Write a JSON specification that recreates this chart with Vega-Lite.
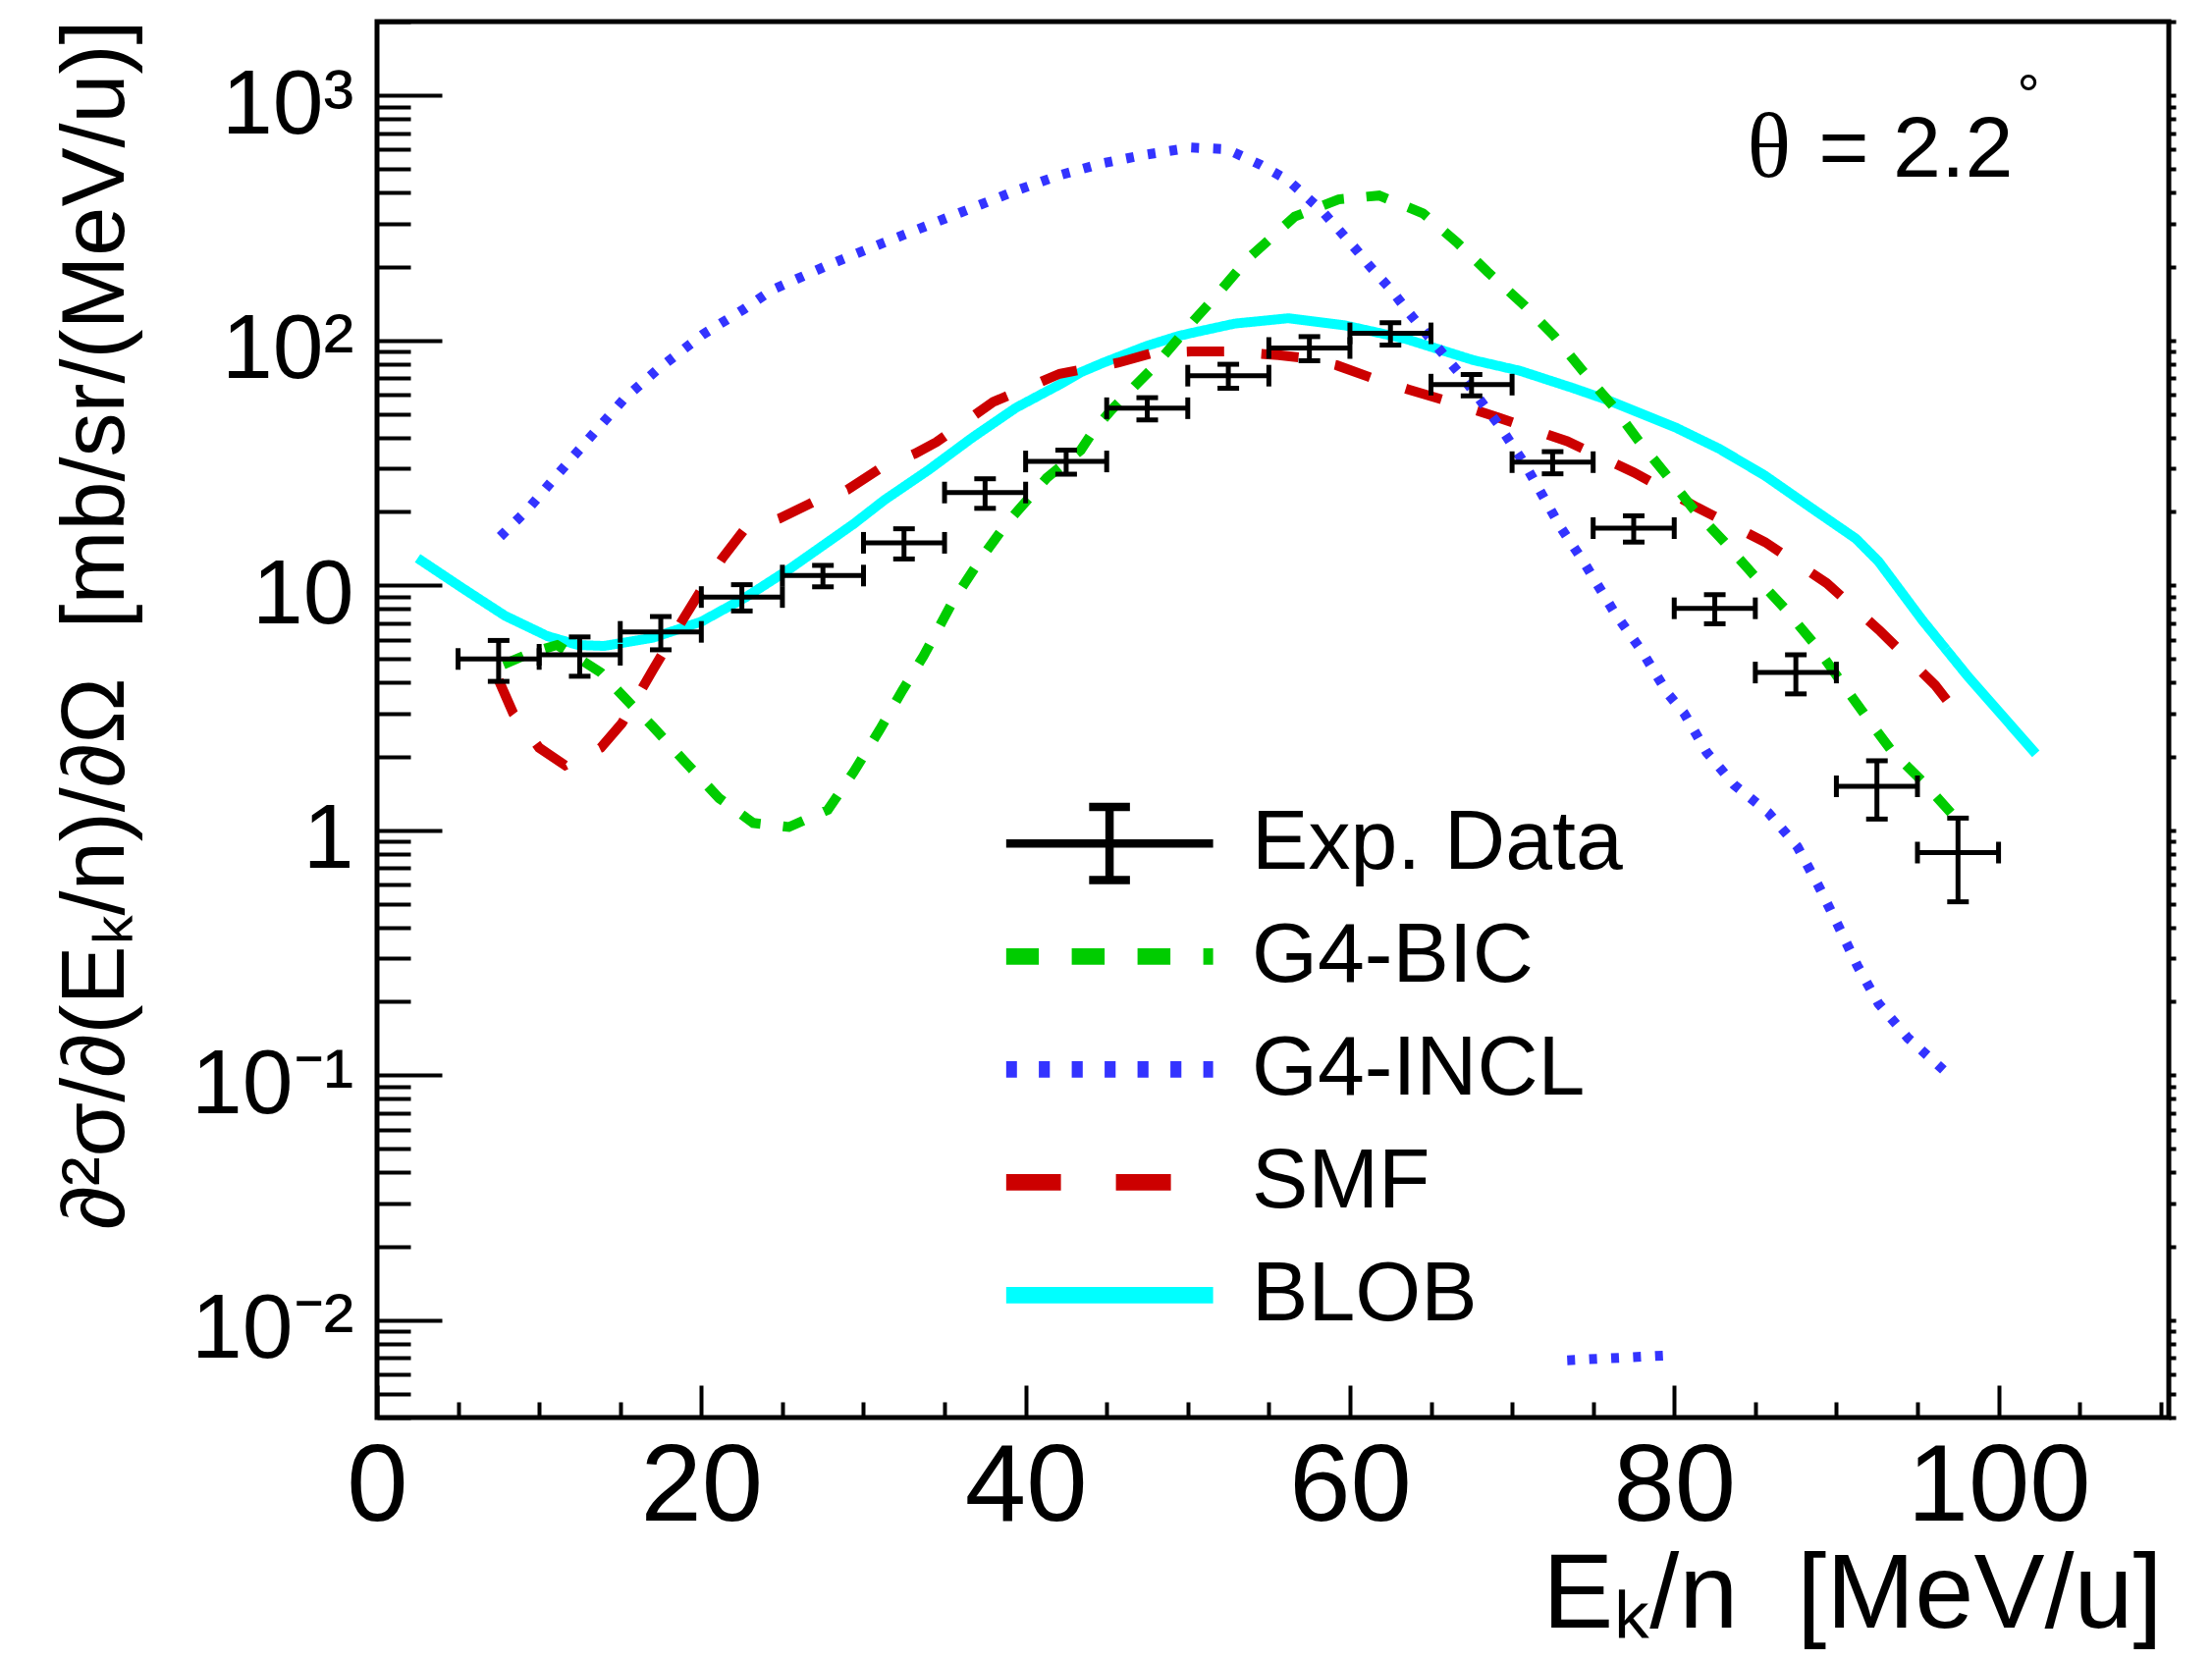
{
  "$schema": "https://vega.github.io/schema/vega-lite/v6.json",
  "width": 1825,
  "height": 1422,
  "autosize": {"type": "none"},
  "padding": {"left": 384, "top": 22, "right": 44, "bottom": 247},
  "background": "white",
  "config": {
    "font": "Liberation Sans",
    "view": {"stroke": "black", "strokeWidth": 5},
    "axis": {"labelFont": "Liberation Sans", "titleFont": "Liberation Sans", "labelColor": "black", "titleColor": "black", "tickColor": "black", "grid": false, "domain": false, "titleFontWeight": "normal", "tickWidth": 4, "labelOverlap": false, "labelFlush": false, "labelLimit": 1000},
    "legend": {"labelFont": "Liberation Sans", "labelColor": "black"}
  },
  "datasets": {
    "models": [
      {"series":"BLOB","seg":1,"E":2.5,"v":12.9},{"series":"BLOB","seg":1,"E":5.2,"v":9.8},{"series":"BLOB","seg":1,"E":7.9,"v":7.5},{"series":"BLOB","seg":1,"E":10.5,"v":6.2},{"series":"BLOB","seg":1,"E":12.4,"v":5.7},{"series":"BLOB","seg":1,"E":14.0,"v":5.65},{"series":"BLOB","seg":1,"E":17.0,"v":6.1},{"series":"BLOB","seg":1,"E":20.0,"v":7.1},{"series":"BLOB","seg":1,"E":22.7,"v":8.9},{"series":"BLOB","seg":1,"E":25.4,"v":11.6},{"series":"BLOB","seg":1,"E":29.4,"v":17.8},{"series":"BLOB","seg":1,"E":31.3,"v":22.3},{"series":"BLOB","seg":1,"E":34.0,"v":29.5},{"series":"BLOB","seg":1,"E":36.7,"v":40},{"series":"BLOB","seg":1,"E":39.4,"v":53},{"series":"BLOB","seg":1,"E":42.1,"v":66},{"series":"BLOB","seg":1,"E":43.4,"v":74},{"series":"BLOB","seg":1,"E":44.8,"v":81},{"series":"BLOB","seg":1,"E":47.5,"v":95},{"series":"BLOB","seg":1,"E":49.4,"v":104},{"series":"BLOB","seg":1,"E":50.2,"v":107},{"series":"BLOB","seg":1,"E":52.9,"v":117},{"series":"BLOB","seg":1,"E":56.2,"v":123},{"series":"BLOB","seg":1,"E":59.7,"v":115},{"series":"BLOB","seg":1,"E":62.4,"v":105},{"series":"BLOB","seg":1,"E":63.5,"v":101},{"series":"BLOB","seg":1,"E":67.6,"v":83},{"series":"BLOB","seg":1,"E":70.5,"v":75},{"series":"BLOB","seg":1,"E":73.7,"v":64},{"series":"BLOB","seg":1,"E":75.9,"v":57},{"series":"BLOB","seg":1,"E":80.1,"v":44},{"series":"BLOB","seg":1,"E":82.8,"v":36},{"series":"BLOB","seg":1,"E":85.6,"v":28},{"series":"BLOB","seg":1,"E":88.4,"v":20.8},{"series":"BLOB","seg":1,"E":91.2,"v":15.5},{"series":"BLOB","seg":1,"E":92.6,"v":12.5},{"series":"BLOB","seg":1,"E":95.3,"v":7.2},{"series":"BLOB","seg":1,"E":98.1,"v":4.25},{"series":"BLOB","seg":1,"E":102.3,"v":2.05},
      {"series":"SMF","seg":1,"E":7.5,"v":4.1},{"series":"SMF","seg":1,"E":8.4,"v":3.0},{"series":"SMF","seg":1,"E":10.0,"v":2.17},{"series":"SMF","seg":1,"E":11.6,"v":1.84},{"series":"SMF","seg":1,"E":13.8,"v":2.17},{"series":"SMF","seg":1,"E":15.1,"v":2.73},{"series":"SMF","seg":1,"E":17.0,"v":4.5},{"series":"SMF","seg":1,"E":18.9,"v":7.3},{"series":"SMF","seg":1,"E":20.3,"v":10.3},{"series":"SMF","seg":1,"E":21.3,"v":12.9},{"series":"SMF","seg":1,"E":22.6,"v":16.7},{"series":"SMF","seg":1,"E":24.8,"v":18.7},{"series":"SMF","seg":1,"E":27.0,"v":22},{"series":"SMF","seg":1,"E":29.0,"v":24.5},{"series":"SMF","seg":1,"E":31.2,"v":30.5},{"series":"SMF","seg":1,"E":33.2,"v":34.5},{"series":"SMF","seg":1,"E":34.5,"v":38.4},{"series":"SMF","seg":1,"E":38.0,"v":56},{"series":"SMF","seg":1,"E":42.1,"v":73},{"series":"SMF","seg":1,"E":45.7,"v":81},{"series":"SMF","seg":1,"E":47.9,"v":89},{"series":"SMF","seg":1,"E":50.2,"v":90},{"series":"SMF","seg":1,"E":52.5,"v":90},{"series":"SMF","seg":1,"E":55.6,"v":87},{"series":"SMF","seg":1,"E":57.0,"v":85},{"series":"SMF","seg":1,"E":59.2,"v":79},{"series":"SMF","seg":1,"E":61.4,"v":70},{"series":"SMF","seg":1,"E":63.6,"v":63},{"series":"SMF","seg":1,"E":65.8,"v":57},{"series":"SMF","seg":1,"E":69.1,"v":48.5},{"series":"SMF","seg":1,"E":73.4,"v":38.7},{"series":"SMF","seg":1,"E":77.5,"v":28.9},{"series":"SMF","seg":1,"E":81.4,"v":20.8},{"series":"SMF","seg":1,"E":85.6,"v":15},{"series":"SMF","seg":1,"E":89.4,"v":10.2},{"series":"SMF","seg":1,"E":92.7,"v":6.5},{"series":"SMF","seg":1,"E":96.1,"v":3.9},{"series":"SMF","seg":1,"E":96.8,"v":3.4},
      {"series":"G4-BIC","seg":1,"E":7.8,"v":4.75},{"series":"G4-BIC","seg":1,"E":9.5,"v":5.3},{"series":"G4-BIC","seg":1,"E":11.1,"v":5.7},{"series":"G4-BIC","seg":1,"E":12.7,"v":4.9},{"series":"G4-BIC","seg":1,"E":13.8,"v":4.4},{"series":"G4-BIC","seg":1,"E":15.4,"v":3.4},{"series":"G4-BIC","seg":1,"E":17.0,"v":2.65},{"series":"G4-BIC","seg":1,"E":19.2,"v":1.84},{"series":"G4-BIC","seg":1,"E":21.1,"v":1.35},{"series":"G4-BIC","seg":1,"E":23.2,"v":1.07},{"series":"G4-BIC","seg":1,"E":25.4,"v":1.03},{"series":"G4-BIC","seg":1,"E":27.8,"v":1.21},{"series":"G4-BIC","seg":1,"E":29.4,"v":1.73},{"series":"G4-BIC","seg":1,"E":31.0,"v":2.57},{"series":"G4-BIC","seg":1,"E":32.4,"v":3.72},{"series":"G4-BIC","seg":1,"E":33.7,"v":5.14},{"series":"G4-BIC","seg":1,"E":35.6,"v":8.79},{"series":"G4-BIC","seg":1,"E":37.2,"v":12.7},{"series":"G4-BIC","seg":1,"E":38.8,"v":17.8},{"series":"G4-BIC","seg":1,"E":41.3,"v":27.4},{"series":"G4-BIC","seg":1,"E":43.4,"v":35.6},{"series":"G4-BIC","seg":1,"E":44.2,"v":42.8},{"series":"G4-BIC","seg":1,"E":45.3,"v":52},{"series":"G4-BIC","seg":1,"E":46.7,"v":64.7},{"series":"G4-BIC","seg":1,"E":48.0,"v":79},{"series":"G4-BIC","seg":1,"E":50.4,"v":121},{"series":"G4-BIC","seg":1,"E":51.6,"v":148},{"series":"G4-BIC","seg":1,"E":53.7,"v":215},{"series":"G4-BIC","seg":1,"E":56.6,"v":320},{"series":"G4-BIC","seg":1,"E":59.3,"v":376},{"series":"G4-BIC","seg":1,"E":61.8,"v":390},{"series":"G4-BIC","seg":1,"E":64.5,"v":330},{"series":"G4-BIC","seg":1,"E":66.6,"v":251},{"series":"G4-BIC","seg":1,"E":68.5,"v":190},{"series":"G4-BIC","seg":1,"E":70.8,"v":138},{"series":"G4-BIC","seg":1,"E":72.6,"v":104},{"series":"G4-BIC","seg":1,"E":74.4,"v":74.4},{"series":"G4-BIC","seg":1,"E":76.2,"v":54},{"series":"G4-BIC","seg":1,"E":77.8,"v":38.9},{"series":"G4-BIC","seg":1,"E":79.5,"v":28.3},{"series":"G4-BIC","seg":1,"E":81.2,"v":20.4},{"series":"G4-BIC","seg":1,"E":83.1,"v":15},{"series":"G4-BIC","seg":1,"E":84.9,"v":11},{"series":"G4-BIC","seg":1,"E":86.8,"v":8.06},{"series":"G4-BIC","seg":1,"E":88.6,"v":5.8},{"series":"G4-BIC","seg":1,"E":90.2,"v":4.11},{"series":"G4-BIC","seg":1,"E":91.8,"v":2.93},{"series":"G4-BIC","seg":1,"E":93.4,"v":2.11},{"series":"G4-BIC","seg":1,"E":95.4,"v":1.56},{"series":"G4-BIC","seg":1,"E":97.2,"v":1.15},
      {"series":"G4-INCL","seg":1,"E":7.6,"v":15.8},{"series":"G4-INCL","seg":1,"E":9.3,"v":20.4},{"series":"G4-INCL","seg":1,"E":11.15,"v":28.4},{"series":"G4-INCL","seg":1,"E":13.3,"v":41.3},{"series":"G4-INCL","seg":1,"E":15.2,"v":57.3},{"series":"G4-INCL","seg":1,"E":17.3,"v":76},{"series":"G4-INCL","seg":1,"E":20.1,"v":105.7},{"series":"G4-INCL","seg":1,"E":22.6,"v":133.6},{"series":"G4-INCL","seg":1,"E":24.4,"v":161},{"series":"G4-INCL","seg":1,"E":28.0,"v":205},{"series":"G4-INCL","seg":1,"E":31.3,"v":251},{"series":"G4-INCL","seg":1,"E":34.0,"v":295},{"series":"G4-INCL","seg":1,"E":36.7,"v":347},{"series":"G4-INCL","seg":1,"E":39.4,"v":408},{"series":"G4-INCL","seg":1,"E":42.1,"v":472},{"series":"G4-INCL","seg":1,"E":44.8,"v":529},{"series":"G4-INCL","seg":1,"E":47.5,"v":574},{"series":"G4-INCL","seg":1,"E":50.2,"v":612},{"series":"G4-INCL","seg":1,"E":52.4,"v":603},{"series":"G4-INCL","seg":1,"E":54.5,"v":520},{"series":"G4-INCL","seg":1,"E":56.2,"v":450},{"series":"G4-INCL","seg":1,"E":58.3,"v":336},{"series":"G4-INCL","seg":1,"E":60.5,"v":230},{"series":"G4-INCL","seg":1,"E":61.1,"v":205},{"series":"G4-INCL","seg":1,"E":62.6,"v":159},{"series":"G4-INCL","seg":1,"E":63.5,"v":133},{"series":"G4-INCL","seg":1,"E":64.8,"v":104.5},{"series":"G4-INCL","seg":1,"E":67.0,"v":70},{"series":"G4-INCL","seg":1,"E":69.2,"v":45},{"series":"G4-INCL","seg":1,"E":70.8,"v":31.1},{"series":"G4-INCL","seg":1,"E":73.0,"v":17.2},{"series":"G4-INCL","seg":1,"E":74.4,"v":12.5},{"series":"G4-INCL","seg":1,"E":76.3,"v":7.76},{"series":"G4-INCL","seg":1,"E":78.0,"v":5.39},{"series":"G4-INCL","seg":1,"E":79.6,"v":3.61},{"series":"G4-INCL","seg":1,"E":80.6,"v":3.01},{"series":"G4-INCL","seg":1,"E":82.0,"v":2.08},{"series":"G4-INCL","seg":1,"E":83.7,"v":1.53},{"series":"G4-INCL","seg":1,"E":85.8,"v":1.18},{"series":"G4-INCL","seg":1,"E":87.6,"v":0.855},{"series":"G4-INCL","seg":1,"E":88.9,"v":0.592},{"series":"G4-INCL","seg":1,"E":90.1,"v":0.409},{"series":"G4-INCL","seg":1,"E":91.3,"v":0.279},{"series":"G4-INCL","seg":1,"E":92.6,"v":0.196},{"series":"G4-INCL","seg":1,"E":94.4,"v":0.142},{"series":"G4-INCL","seg":1,"E":96.6,"v":0.105},
      {"series":"G4-INCL","seg":2,"E":73.4,"v":0.00685},{"series":"G4-INCL","seg":2,"E":80.1,"v":0.0072}
    ],
    "exp": [
      {"E":7.5,"xl":5,"xh":10,"v":5.0,"lo":4.05,"hi":5.95},
      {"E":12.5,"xl":10,"xh":15,"v":5.2,"lo":4.25,"hi":6.15},
      {"E":17.5,"xl":15,"xh":20,"v":6.45,"lo":5.45,"hi":7.45},
      {"E":22.5,"xl":20,"xh":25,"v":8.95,"lo":7.85,"hi":10.05},
      {"E":27.5,"xl":25,"xh":30,"v":10.95,"lo":9.85,"hi":12.05},
      {"E":32.5,"xl":30,"xh":35,"v":14.9,"lo":12.8,"hi":17.0},
      {"E":37.5,"xl":35,"xh":40,"v":23.9,"lo":20.6,"hi":27.2},
      {"E":42.5,"xl":40,"xh":45,"v":32.0,"lo":28.4,"hi":35.6},
      {"E":47.5,"xl":45,"xh":50,"v":52.8,"lo":47.3,"hi":58.3},
      {"E":52.5,"xl":50,"xh":55,"v":71.7,"lo":63.7,"hi":79.8},
      {"E":57.5,"xl":55,"xh":60,"v":93.0,"lo":82.5,"hi":103.5},
      {"E":62.5,"xl":60,"xh":65,"v":106.7,"lo":95.5,"hi":118},
      {"E":67.5,"xl":65,"xh":70,"v":65.9,"lo":59.3,"hi":72.5},
      {"E":72.5,"xl":70,"xh":75,"v":31.8,"lo":28.5,"hi":35.1},
      {"E":77.5,"xl":75,"xh":80,"v":17.1,"lo":15.0,"hi":19.2},
      {"E":82.5,"xl":80,"xh":85,"v":8.05,"lo":6.96,"hi":9.15},
      {"E":87.5,"xl":85,"xh":90,"v":4.4,"lo":3.6,"hi":5.2},
      {"E":92.5,"xl":90,"xh":95,"v":1.51,"lo":1.11,"hi":1.92},
      {"E":97.5,"xl":95,"xh":100,"v":0.81,"lo":0.51,"hi":1.12}
    ]
  },
  "resolve": {"axis": {"x": "independent", "y": "independent"}},
  "layer": [
    {
      "data": {"name": "models"},
      "mark": {"type": "line", "clip": true},
      "encoding": {
        "x": {"field": "E", "type": "quantitative",
              "scale": {"domain": [0, 110.5], "nice": false, "zero": false},
              "axis": {"orient": "bottom", "values": [0, 20, 40, 60, 80, 100], "tickSize": -33, "labelFontSize": 112, "labelPadding": 49, "labelLimit": 1000, "format": "d",
                       "title": "Eₖ/n \u00a0[MeV/u]", "titleFontSize": 108, "titleX": 1818, "titleY": 213, "titleAlign": "right", "titleBaseline": "alphabetic", "titleAngle": 0}},
        "y": {"field": "v", "type": "quantitative",
              "scale": {"type": "log", "domain": [0.004, 2000], "nice": false},
              "axis": {"orient": "left", "values": [0.01, 0.1, 1, 10, 100, 1000], "tickSize": -66, "labelFontSize": 93, "labelPadding": 90, "labelOffset": 10, "labelLimit": 1000,
                       "labelExpr": "datum.value === 1000 ? '10³' : datum.value === 100 ? '10²' : datum.value === 10 ? '10' : datum.value === 1 ? '1' : datum.value === 0.1 ? '10⁻¹' : datum.value === 0.01 ? '10⁻²' : ''",
                       "title": "∂²σ/∂(Eₖ/n)/∂Ω \u00a0[mb/sr/(MeV/u)]", "titleFontSize": 90, "titleX": -259, "titleY": -2, "titleAngle": 270, "titleAlign": "right", "titleBaseline": "alphabetic"}},
        "color": {"field": "series", "type": "nominal",
                  "scale": {"domain": ["Exp. Data", "G4-BIC", "G4-INCL", "SMF", "BLOB"], "range": ["#000000", "#00cc00", "#3333ff", "#cc0000", "#00ffff"]},
                  "legend": {"orient": "none", "legendX": 640.6, "legendY": 780, "direction": "vertical", "columns": 1, "title": null, "padding": 0, "rowPadding": 0,
                             "clipHeight": 114.7, "symbolSize": 44521, "symbolOffset": 62.5,
                             "symbolType": {"expr": "datum.value === 'Exp. Data' ? 'M-1,0L1,0M0,-0.353L0,0.353M-0.197,-0.353L0.197,-0.353M-0.197,0.353L0.197,0.353' : 'stroke'"},
                             "symbolStrokeWidth": {"expr": "datum.value === 'Exp. Data' ? 8.5 : 16.8"},
                             "symbolDash": {"expr": "datum.value === 'G4-BIC' ? [33.5, 33.5] : datum.value === 'G4-INCL' ? [11.2, 22.3] : datum.value === 'SMF' ? [56, 56] : [1, 0]"},
                             "labelFontSize": 86, "labelOffset": 102, "labelLimit": 1000, "labelBaseline": "middle"}},
        "strokeDash": {"field": "series", "type": "nominal",
                       "scale": {"domain": ["BLOB", "SMF", "G4-BIC", "G4-INCL"], "range": [[1, 0], [38, 38], [22, 23], [8, 14.4]]},
                       "legend": null},
        "detail": {"field": "seg", "type": "nominal"},
        "strokeWidth": {"value": 10}
      }
    },
    {
      "data": {"name": "exp"},
      "mark": {"type": "rule", "color": "black", "strokeWidth": 5},
      "encoding": {
        "x": {"field": "xl", "type": "quantitative",
              "axis": {"orient": "bottom", "values": [5, 10, 15, 25, 30, 35, 45, 50, 55, 65, 70, 75, 85, 90, 95, 105, 110], "tickSize": -16, "labels": false, "title": null}},
        "x2": {"field": "xh"},
        "y": {"field": "v", "type": "quantitative",
              "axis": {"orient": "left", "values": [0.004, 0.005, 0.006, 0.007, 0.008, 0.009, 0.02, 0.03, 0.04, 0.05, 0.06, 0.07, 0.08, 0.09, 0.2, 0.3, 0.4, 0.5, 0.6, 0.7, 0.8, 0.9, 2, 3, 4, 5, 6, 7, 8, 9, 20, 30, 40, 50, 60, 70, 80, 90, 200, 300, 400, 500, 600, 700, 800, 900, 2000], "tickSize": -34, "labels": false, "title": null}}
      }
    },
    {
      "data": {"name": "exp"},
      "mark": {"type": "rule", "color": "black", "strokeWidth": 5},
      "encoding": {
        "x": {"field": "E", "type": "quantitative", "axis": null},
        "y": {"field": "lo", "type": "quantitative",
              "axis": {"orient": "right", "values": [0.004, 0.005, 0.006, 0.007, 0.008, 0.009, 0.01, 0.02, 0.03, 0.04, 0.05, 0.06, 0.07, 0.08, 0.09, 0.1, 0.2, 0.3, 0.4, 0.5, 0.6, 0.7, 0.8, 0.9, 1, 2, 3, 4, 5, 6, 7, 8, 9, 10, 20, 30, 40, 50, 60, 70, 80, 90, 100, 200, 300, 400, 500, 600, 700, 800, 900, 1000, 2000], "tickSize": 7, "labels": false, "title": null}},
        "y2": {"field": "hi"}
      }
    },
    {
      "data": {"name": "exp"},
      "mark": {"type": "tick", "orient": "vertical", "color": "black", "size": 22, "thickness": 5, "opacity": 1},
      "encoding": {
        "x": {"field": "xl", "type": "quantitative", "axis": null},
        "y": {"field": "v", "type": "quantitative", "axis": null}
      }
    },
    {
      "data": {"name": "exp"},
      "mark": {"type": "tick", "orient": "vertical", "color": "black", "size": 22, "thickness": 5, "opacity": 1},
      "encoding": {
        "x": {"field": "xh", "type": "quantitative", "axis": null},
        "y": {"field": "v", "type": "quantitative", "axis": null}
      }
    },
    {
      "data": {"name": "exp"},
      "mark": {"type": "tick", "orient": "horizontal", "color": "black", "size": 22, "thickness": 5, "opacity": 1},
      "encoding": {
        "x": {"field": "E", "type": "quantitative", "axis": null},
        "y": {"field": "lo", "type": "quantitative", "axis": null}
      }
    },
    {
      "data": {"name": "exp"},
      "mark": {"type": "tick", "orient": "horizontal", "color": "black", "size": 22, "thickness": 5, "opacity": 1},
      "encoding": {
        "x": {"field": "E", "type": "quantitative", "axis": null},
        "y": {"field": "hi", "type": "quantitative", "axis": null}
      }
    },
    {
      "data": {"values": [{}]},
      "mark": {"type": "text", "font": "Liberation Serif", "fontSize": 93, "align": "left", "baseline": "alphabetic", "color": "black"},
      "encoding": {
        "x": {"datum": 84.5, "type": "quantitative", "axis": null},
        "y": {"datum": 465, "type": "quantitative", "axis": null},
        "text": {"value": "θ"}
      }
    },
    {
      "data": {"values": [{}]},
      "mark": {"type": "text", "font": "Liberation Sans", "fontSize": 88, "align": "right", "baseline": "alphabetic", "color": "black"},
      "encoding": {
        "x": {"datum": 100.9, "type": "quantitative", "axis": null},
        "y": {"datum": 465, "type": "quantitative", "axis": null},
        "text": {"value": "= 2.2"}
      }
    },
    {
      "data": {"values": [{}]},
      "mark": {"type": "text", "font": "Liberation Sans", "fontSize": 58, "align": "center", "baseline": "alphabetic", "color": "black"},
      "encoding": {
        "x": {"datum": 101.85, "type": "quantitative", "axis": null},
        "y": {"datum": 838, "type": "quantitative", "axis": null},
        "text": {"value": "°"}
      }
    }
  ]
}
